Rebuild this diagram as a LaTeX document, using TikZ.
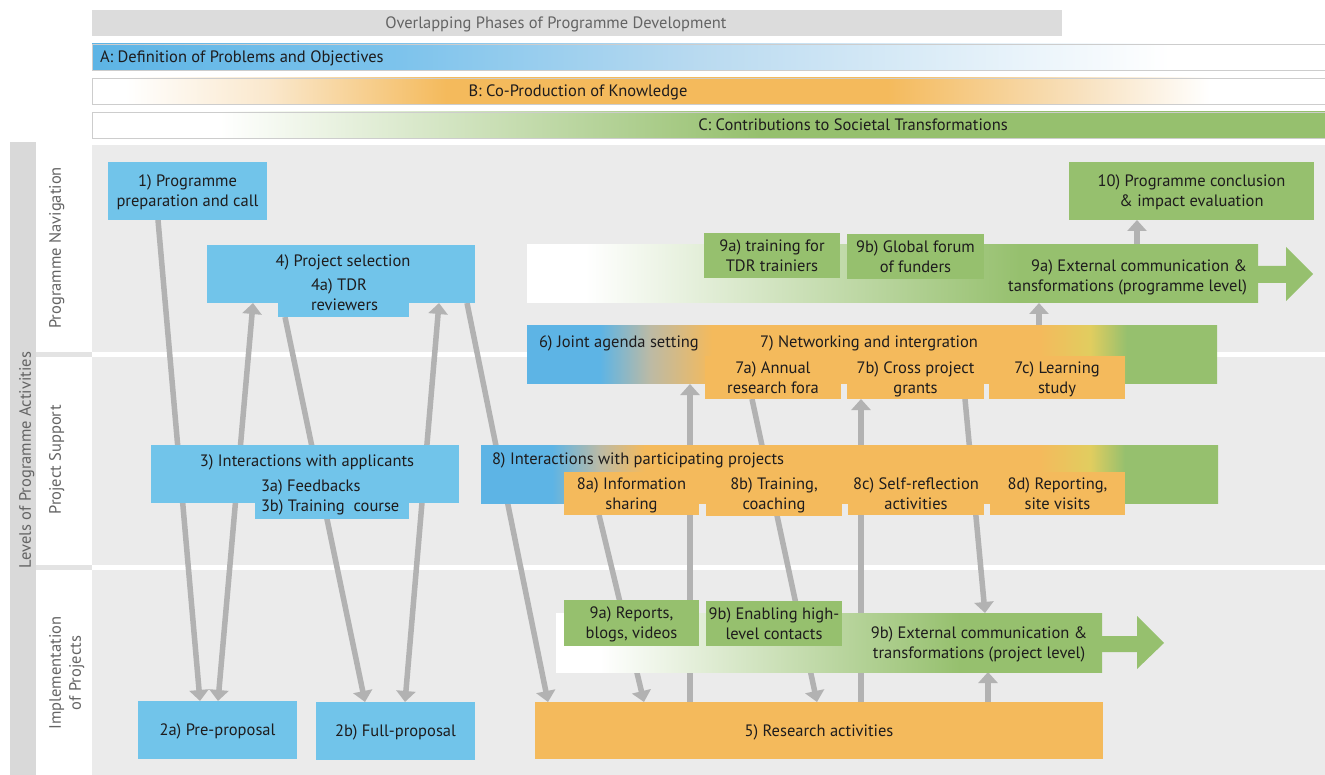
\documentclass[tikz,border=0pt]{standalone}
\usepackage{fontspec}
\setmainfont{PT Sans}
\usetikzlibrary{arrows.meta}
\definecolor{cblue}{RGB}{113,196,234}
\definecolor{corange}{RGB}{244,186,92}
\definecolor{cgreen}{RGB}{150,192,110}
\definecolor{cbandblue}{RGB}{93,180,229}
\definecolor{cAmid}{RGB}{125,195,236}
\definecolor{cApale}{RGB}{185,218,240}
\definecolor{cBpale}{RGB}{250,232,205}
\definecolor{cBpale2}{RGB}{248,225,190}
\definecolor{cyel}{RGB}{225,205,95}
\definecolor{cmid}{RGB}{188,186,165}
\definecolor{carrow}{RGB}{178,178,178}
\definecolor{cbg}{RGB}{235,235,235}
\definecolor{cstrip}{RGB}{217,217,217}
\definecolor{ctitle}{RGB}{220,220,220}
\definecolor{csep}{RGB}{227,227,227}
\definecolor{cborder}{RGB}{205,205,205}
\definecolor{txtc}{RGB}{30,28,29}
\definecolor{lblc}{RGB}{100,100,100}
\pgfdeclarehorizontalshading{shA}{100bp}{color(0bp)=(cbandblue); color(25bp)=(cbandblue); color(37.49bp)=(cAmid); color(49.66bp)=(cApale); color(68.71bp)=(white); color(100bp)=(white)}
\pgfdeclarehorizontalshading{shB}{100bp}{color(0bp)=(white); color(26.34bp)=(white); color(32.14bp)=(cBpale); color(39.36bp)=(corange); color(57.24bp)=(corange); color(65.06bp)=(cBpale2); color(70.34bp)=(white); color(100bp)=(white)}
\pgfdeclarehorizontalshading{shC}{100bp}{color(0bp)=(white); color(30.19bp)=(white); color(52.09bp)=(cgreen); color(100bp)=(cgreen)}
\pgfdeclarehorizontalshading{shPnine}{100bp}{color(0bp)=(white); color(28.97bp)=(white); color(58.72bp)=(cgreen); color(100bp)=(cgreen)}
\pgfdeclarehorizontalshading{shPnineb}{100bp}{color(0bp)=(white); color(29.03bp)=(white); color(62bp)=(cgreen); color(100bp)=(cgreen)}
\pgfdeclarehorizontalshading{shSeven}{100bp}{color(0bp)=(cbandblue); color(30.29bp)=(cbandblue); color(33.91bp)=(cmid); color(38.41bp)=(corange); color(62.17bp)=(corange); color(65.8bp)=(cyel); color(68.48bp)=(cgreen); color(100bp)=(cgreen)}
\pgfdeclarehorizontalshading{shEight}{100bp}{color(0bp)=(cbandblue); color(29.82bp)=(cbandblue); color(33.07bp)=(cmid); color(36.13bp)=(corange); color(62.92bp)=(corange); color(66.32bp)=(cyel); color(68.69bp)=(cgreen); color(100bp)=(cgreen)}
\pgfdeclarelayer{back}
\pgfdeclarelayer{arrows}
\pgfsetlayers{back,arrows,main}
\newcommand\lbl{\fontsize{16.5}{20}\selectfont}
\begin{document}
\begin{tikzpicture}[x=1pt,y=-1pt,
  box/.style={rectangle, inner sep=0pt, outer sep=0pt, align=center, text=txtc, font=\lbl, text depth=0pt},
  bluebox/.style={box, fill=cblue},
  orbox/.style={box, fill=corange},
  grbox/.style={box, fill=cgreen},
  band/.style={rectangle, inner sep=0pt, outer sep=0pt, shade},
  txt/.style={inner sep=0pt, outer sep=0pt, text=txtc, font=\lbl, align=center, text depth=0pt},
  side/.style={txt, text=lblc, rotate=90},
  con/.style={draw=carrow, line width=5.5pt, -{Triangle[width=19pt,length=11pt]}},
  bicon/.style={draw=carrow, line width=5.5pt, {Triangle[width=19pt,length=11pt]}-{Triangle[width=19pt,length=11pt]}}
]
\useasboundingbox (0,0) rectangle (1325,775);
\begin{pgfonlayer}{back}
  \fill[white] (0,0) rectangle (1325,775);
  \fill[ctitle] (92,10) rectangle (1062,36);
  \shadedraw[shading=shA, draw=cborder, line width=0.8pt] (92,44) rectangle (1325,70);
  \shadedraw[shading=shB, draw=cborder, line width=0.8pt] (92,78) rectangle (1325,104);
  \shadedraw[shading=shC, draw=cborder, line width=0.8pt] (92,112) rectangle (1325,138);
  \fill[cstrip] (10,142) rectangle (36,775);
  \fill[cbg] (92,145) rectangle (1325,775);
  \fill[white] (92,352) rectangle (1325,357);
  \fill[white] (92,565) rectangle (1325,570);
  \fill[csep] (36,352) rectangle (92,357);
  \fill[csep] (36,565) rectangle (92,570);
\end{pgfonlayer}

% header texts
\node[txt, text=lblc] (tTitle) at (556,23) {Overlapping Phases of Programme Development};
\node[txt, anchor=west] (tA) at (100,57) {A: Definition of Problems and Objectives};
\node[txt] (tB) at (578,91) {B: Co-Production of Knowledge};
\node[txt] (tC) at (853,125) {C: Contributions to Societal Transformations};

% side labels
\node[side] (lLev) at (25,460) {Levels of Programme Activities};
\node[side] (lNav) at (55,248) {Programme Navigation};
\node[side] (lSup) at (55,460) {Project Support};
\node[side] (lImp) at (65,673) {Implementation\\of Projects};

% bands
\node[band, shading=shPnine, minimum width=731pt, minimum height=58pt] (P9) at (892.5,274) {};
\fill[cgreen] (1257,266) -- (1286,266) -- (1286,247) -- (1313,274) -- (1286,301) -- (1286,283) -- (1257,283) -- cycle;
\node[band, shading=shSeven, minimum width=690pt, minimum height=58pt] (B67) at (872,355) {};
\node[band, shading=shEight, minimum width=737pt, minimum height=58pt] (B8) at (849.5,474) {};
\node[band, shading=shPnineb, minimum width=546pt, minimum height=59pt] (P9b) at (829,642.5) {};
\fill[cgreen] (1101,636) -- (1137,636) -- (1137,616) -- (1164,643) -- (1137,669) -- (1137,652) -- (1101,652) -- cycle;

% band texts
\node[txt, anchor=east, align=right] (tP9) at (1247,276) {9a) External communication \&\\tansformations (programme level)};
\node[txt] (tP9b) at (979,643) {9b) External communication \&\\transformations (project level)};
\node[txt, anchor=west] (t6) at (539,342) {6) Joint agenda setting};
\node[txt] (t7) at (869,342) {7) Networking and intergration};
\node[txt, anchor=west] (t8) at (492,459) {8) Interactions with participating projects};

% blue boxes
\node[bluebox, minimum width=159pt, minimum height=58pt] (n1) at (187.5,191) {1) Programme\\preparation and call};
\node[bluebox, minimum width=268pt, minimum height=58pt] (n4) at (341,274) {};
\node[bluebox, minimum width=131pt, minimum height=14pt] (n4t) at (343.5,310) {};
\node[txt] (t4) at (343,261) {4) Project selection};
\node[txt, anchor=west, align=left] (t4a) at (311,295) {4a) TDR\\reviewers};
\node[bluebox, minimum width=308pt, minimum height=58pt] (n3) at (305,474) {};
\node[bluebox, minimum width=154pt, minimum height=16pt] (n3t) at (332,511) {};
\node[txt] (t3) at (307,461) {3) Interactions with applicants};
\node[txt, anchor=west, align=left] (t3a) at (261,496) {3a) Feedbacks\\3b) Training\ \ course};
\node[bluebox, minimum width=159pt, minimum height=58pt] (n2a) at (217.5,730) {2a) Pre-proposal};
\node[bluebox, minimum width=159pt, minimum height=58pt] (n2b) at (395.5,731) {2b) Full-proposal};

% green boxes
\node[grbox, minimum width=245pt, minimum height=58pt] (n10) at (1191.5,191) {10) Programme conclusion\\\& impact evaluation};
\node[grbox, minimum width=136pt, minimum height=45pt] (n9at) at (772,255.5) {9a) training for\\TDR trainiers};
\node[grbox, minimum width=137pt, minimum height=45pt] (n9bf) at (915.5,256.5) {9b) Global forum\\of funders};
\node[grbox, minimum width=135pt, minimum height=46pt] (n9ar) at (631.5,623) {9a) Reports,\\blogs, videos};
\node[grbox, minimum width=136pt, minimum height=45pt] (n9be) at (774,623.5) {9b) Enabling high-\\level contacts};

% orange boxes
\node[orbox, minimum width=136pt, minimum height=43pt] (n7a) at (773,377.5) {7a) Annual\\research fora};
\node[orbox, minimum width=137pt, minimum height=43pt] (n7b) at (915.5,377.5) {7b) Cross project\\grants};
\node[orbox, minimum width=136pt, minimum height=43pt] (n7c) at (1057,377.5) {7c) Learning\\study};
\node[orbox, minimum width=135pt, minimum height=43pt] (n8a) at (631.5,493.5) {8a) Information\\sharing};
\node[orbox, minimum width=136pt, minimum height=44pt] (n8b) at (774,494) {8b) Training,\\coaching};
\node[orbox, minimum width=136pt, minimum height=43pt] (n8c) at (916,493.5) {8c) Self-reflection\\activities};
\node[orbox, minimum width=135pt, minimum height=43pt] (n8d) at (1057.5,493.5) {8d) Reporting,\\site visits};
\node[orbox, minimum width=568pt, minimum height=57pt] (n5) at (819,730.5) {5) Research activities};

% connectors
\begin{pgfonlayer}{arrows}
  \draw[con] ([xshift=-29.5pt]n1.south) -- ([xshift=-17.5pt]n2a.north);
  \draw[bicon] ([xshift=0.5pt]n2a.north) -- ([xshift=-88pt]n4.south);
  \draw[con] ([xshift=-58.5pt]n4t.south) -- ([xshift=-30.5pt]n2b.north);
  \draw[bicon] ([xshift=9.5pt]n2b.north) -- ([xshift=98pt]n4.south);
  \draw[con] ([xshift=126pt]n4.south) -- ([xshift=-271pt]n5.north);
  \draw[con] ([xshift=-32.5pt]n8a.south) -- ([xshift=-175pt]n5.north);
  \draw[con] ([xshift=-21pt]n7a.south) -- ([xshift=-2pt]n5.north);
  \draw[con] ([xshift=-129pt]n5.north) -- ([xshift=-182pt]B67.south);
  \draw[con] ([xshift=42pt]n5.north) -- ([xshift=-54.5pt]n7b.south);
  \draw[con] ([xshift=-92pt]n7c.south) -- ([xshift=156pt]P9b.north);
  \draw[con] ([xshift=169pt]n5.north) -- ([xshift=159pt]P9b.south);
  \draw[con] ([xshift=167pt]B67.north) -- ([xshift=146.5pt]P9.south);
  \draw[con] ([xshift=244.5pt]P9.north) -- ([xshift=-54.5pt]n10.south);
\end{pgfonlayer}
\end{tikzpicture}
\end{document}
